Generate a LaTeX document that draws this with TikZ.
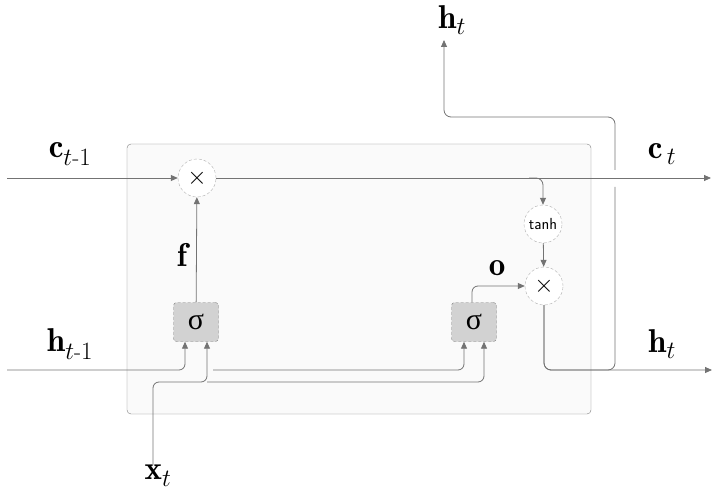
\documentclass[tikz,border=0pt]{standalone}
\usepackage{amsmath}
\usepackage{fontspec}
\newfontfamily\grkfont{Liberation Serif}
\usetikzlibrary{arrows.meta, calc}
\definecolor{linegray}{gray}{0.45}

\begin{document}
\begin{tikzpicture}[x=1pt, y=-1pt,
    wire/.style={draw=linegray, line width=0.8pt},
    conn/.style={wire, -{Triangle[length=7pt, width=6pt]}},
    gate/.style={draw=gray, densely dashed, fill=gray!35, rounded corners=3pt,
                 minimum width=45pt, minimum height=39pt, inner sep=0pt,
                 font=\fontsize{30}{32}\grkfont},
    op/.style={circle, draw=gray!60, densely dashed, fill=white,
               minimum size=38pt, inner sep=0pt, font=\fontsize{24}{26}\selectfont},
    lbl/.style={font=\fontsize{33}{36}\selectfont}]
  \useasboundingbox (0,0) rectangle (725,497);
  % cell body
  \draw[draw=gray, fill=black!2, rounded corners=4pt] (127,144) rectangle (591,414);

  % free ends
  \coordinate (cin) at (7,178);
  \coordinate (cout) at (711,178);
  \coordinate (hin) at (7,370);
  \coordinate (hout) at (712,370);
  \coordinate (xin) at (153,465);
  \coordinate (xrow) at (0,382);
  \coordinate (hup) at (615,370);
  \coordinate (hupend) at (444,40);

  % gates and pointwise ops
  \node[gate] (sigf) at (196,322) {σ};
  \node[gate] (sigo) at (474,322) {σ};
  \node[op] (mulf) at (197,178) {$\times$};
  \node[op, font=\fontsize{16}{18}\sffamily] (tanhc) at (543,224) {tanh};
  \node[op] (mulo) at (544,286) {$\times$};

  % labels
  \node[lbl] (ctin) at (70,154) {$\mathbf{c}_{t\text{-}1}$};
  \node[lbl] (ctout) at (662,154) {$\mathbf{c}_{\,t}$};
  \node[lbl] (htin) at (70,344) {$\mathbf{h}_{t\text{-}1}$};
  \node[lbl] (htout) at (662,344) {$\mathbf{h}_t$};
  \node[lbl] (httop) at (452,20) {$\mathbf{h}_t$};
  \node[lbl] (xtin) at (158,476) {$\mathbf{x}_t$};
  \node[lbl] (flbl) at (182,255) {$\mathbf{f}$};
  \node[lbl] (olbl) at (497,268) {$\mathbf{o}$};

  % cell state line
  \draw[conn] (cin) -- (mulf);
  \draw[conn] (mulf) -- (cout);
  \draw[conn, rounded corners=7pt] ($(tanhc.north |- cin)+(-14,0)$) -| (tanhc.north);
  \draw[conn] (tanhc) -- (mulo);
  % gate outputs
  \draw[conn] (sigf) -- (mulf);
  \draw[conn, rounded corners=6pt] ($(sigo.north)+(-2,0)$) |- (mulo);
  % hidden output, bridged over the cell line
  \draw[conn, rounded corners=7pt] (mulo) |- (hout);
  \draw[wire, rounded corners=7pt] (mulo) |- (hup) -- ($(hup |- cin)+(0,9)$);
  \draw[conn, rounded corners=7pt] ($(hup |- cin)+(0,-8)$) |- ($(hupend)+(0,77)$) -- (hupend);
  % previous hidden state into the gates
  \draw[conn, rounded corners=6pt] (hin) -| ($(sigf.south)+(-11,0)$);
  \draw[conn, rounded corners=6pt] ($(sigf.south |- hin)+(17,0)$) -| ($(sigo.south)+(-10,0)$);
  % input into the gates
  \draw[conn, rounded corners=6pt] (xin) |- ($(sigf.south |- xrow)+(11,0)$) -- ($(sigf.south)+(11,0)$);
  \draw[conn, rounded corners=6pt] ($(sigf.south |- xrow)+(11,0)$) -| ($(sigo.south)+(10,0)$);
\end{tikzpicture}
\end{document}
